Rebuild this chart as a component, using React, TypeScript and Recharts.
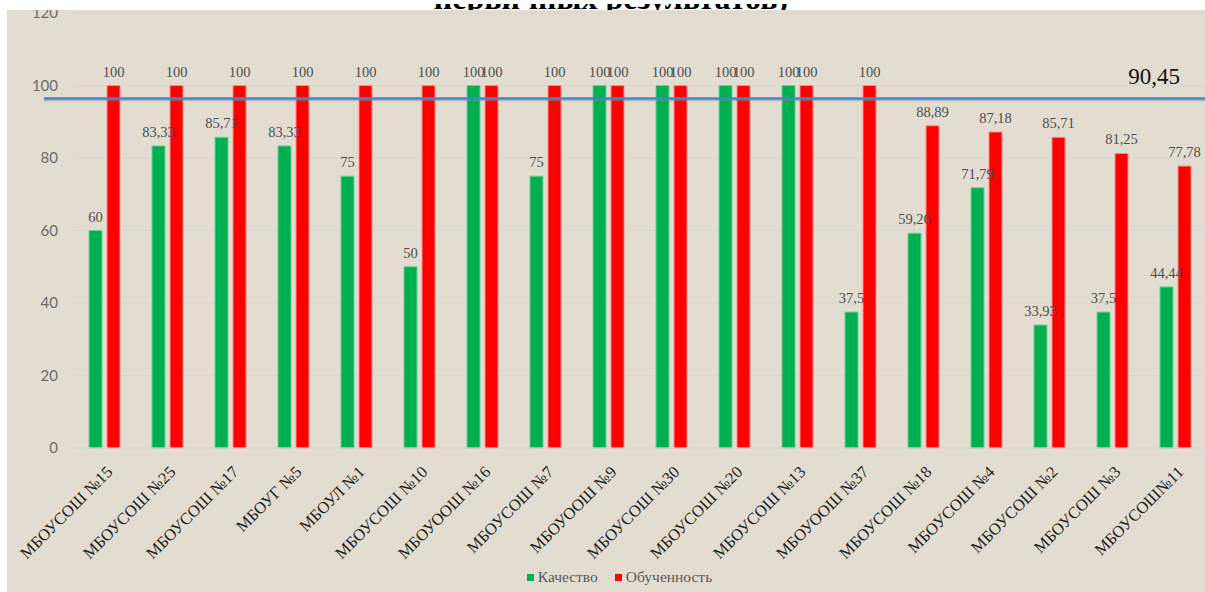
import { BarChart, Bar, XAxis, YAxis, CartesianGrid, Legend, LabelList, ReferenceLine } from 'recharts';

const schools = [
  'МБОУСОШ №15', 'МБОУСОШ №25', 'МБОУСОШ №17', 'МБОУГ №5', 'МБОУЛ №1', 'МБОУСОШ №10',
  'МБОУООШ №16', 'МБОУСОШ №7', 'МБОУООШ №9', 'МБОУСОШ №30', 'МБОУСОШ №20', 'МБОУСОШ №13',
  'МБОУООШ №37', 'МБОУСОШ №18', 'МБОУСОШ №4', 'МБОУСОШ №2', 'МБОУСОШ №3', 'МБОУСОШ№11',
];
const quality = [60, 83.33, 85.71, 83.33, 75, 50, 100, 75, 100, 100, 100, 100, 37.5, 59.26, 71.79, 33.93, 37.5, 44.44];
const learning = [100, 100, 100, 100, 100, 100, 100, 100, 100, 100, 100, 100, 100, 88.89, 87.18, 85.71, 81.25, 77.78];
const yTicks = [0, 20, 40, 60, 80, 100, 120];

// blue line sits a bit above its own label value in the original picture
const levelLine = 96.4;
const levelLabel = '90,45';
const titleTail = 'первичных результатов)';

const data = schools.map((name, i) => ({ name, quality: quality[i], learning: learning[i] }));

const fmt = (v: any) => String(v).replace('.', ',');

const XTick = ({ x, y, payload }: any) => (
  <g transform={`translate(${x + 9},${y + 25})`}>
    <text transform="rotate(-45)" textAnchor="end" fontFamily="Liberation Serif" fontSize={16.5} fill="#1f1f1f">
      {payload.value}
    </text>
  </g>
);

const LegendContent = ({ payload }: any) => (
  <div
    style={{
      display: 'flex',
      justifyContent: 'center',
      alignItems: 'center',
      height: 30,
      paddingLeft: 25,
      fontFamily: 'Liberation Serif',
      fontSize: 15.5,
      color: '#595959',
    }}
  >
    {(payload || []).map((entry: any, i: number) => (
      <span key={i} style={{ display: 'flex', alignItems: 'center', marginLeft: i ? 17 : 0 }}>
        <span style={{ display: 'inline-block', width: 7, height: 7, background: entry.color, marginRight: 4 }} />
        {entry.value}
      </span>
    ))}
  </div>
);

const LevelShape = (props: any) => {
  const { x1, y1, x2, y2 } = props;
  const start = x1 - 29;
  return (
    <g>
      <line x1={start} y1={y1 + 1.8} x2={x2} y2={y2 + 1.8} stroke="#8a8a8a" strokeOpacity={0.45} strokeWidth={1.6} />
      <line x1={start} y1={y1} x2={x2} y2={y2} stroke="#3c86d3" strokeWidth={2.4} />
    </g>
  );
};

const LevelLabel = ({ viewBox }: any) => (
  <text
    x={viewBox.x + viewBox.width - 27}
    y={viewBox.y - 15}
    textAnchor="end"
    fontFamily="Liberation Serif"
    fontSize={23}
    fill="#111"
  >
    {levelLabel}
  </text>
);

export default function App() {
  return (
    <div style={{ position: 'absolute', left: 0, top: 0, width: 1205, height: 592, background: '#fff' }}>
      <div
        style={{
          position: 'absolute',
          left: 7,
          top: 0,
          width: 1198,
          height: 592,
          background: '#e3ddd1',
          overflow: 'hidden',
        }}
      >
        <BarChart
          width={1198}
          height={592}
          data={data}
          margin={{ top: 13, right: -2, left: 0, bottom: 0 }}
          barSize={13}
          barGap={5}
        >
          <CartesianGrid vertical={false} stroke="#d8d6d0" />
          <XAxis
            dataKey="name"
            interval={0}
            height={114}
            tickSize={0}
            tickMargin={0}
            tickLine={false}
            axisLine={{ stroke: '#d8d6d0' }}
            tick={<XTick />}
          />
          <YAxis
            width={66}
            domain={[0, 120]}
            ticks={yTicks}
            tickSize={0}
            tickMargin={15}
            axisLine={false}
            tickLine={false}
            tick={{ fontFamily: 'Lato', fontSize: 15, fill: '#6b6b6b' }}
          />
          <Legend verticalAlign="bottom" height={30} content={<LegendContent />} />
          <Bar dataKey="quality" name="Качество" fill="#00b050" stroke="#6fd098" strokeWidth={1} isAnimationActive={false}>
            <LabelList
              dataKey="quality"
              position="top"
              offset={9}
              formatter={fmt}
              fontFamily="Liberation Serif"
              fontSize={14.5}
              fill="#4d4d4d"
            />
          </Bar>
          <Bar dataKey="learning" name="Обученность" fill="#ff0000" stroke="#ff8a8a" strokeWidth={1} isAnimationActive={false}>
            <LabelList
              dataKey="learning"
              position="top"
              offset={9}
              formatter={fmt}
              fontFamily="Liberation Serif"
              fontSize={14.5}
              fill="#4d4d4d"
            />
          </Bar>
          <ReferenceLine y={levelLine} shape={<LevelShape />} label={<LevelLabel />} />
        </BarChart>
      </div>
      <div style={{ position: 'absolute', left: 0, top: 0, width: 1205, height: 10, background: '#fff', overflow: 'hidden' }}>
        <svg width={1205} height={10}>
          <text x={611} y={5} textAnchor="middle" fontFamily="Liberation Serif" fontWeight="bold" fontSize={32} fill="#000">
            {titleTail}
          </text>
        </svg>
      </div>
    </div>
  );
}
